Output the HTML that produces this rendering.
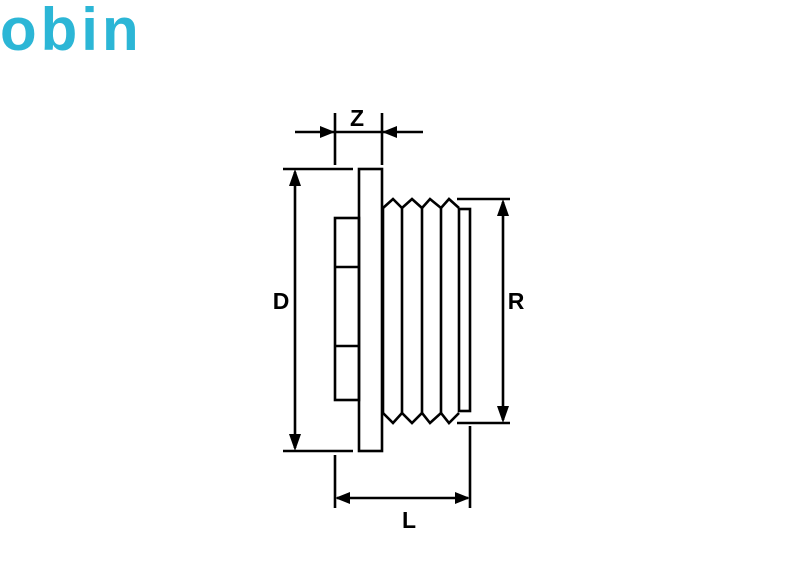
<!DOCTYPE html>
<html><head><style>
html,body{margin:0;padding:0;background:#fff;width:800px;height:576px;overflow:hidden}
svg{display:block}
</style></head><body>
<svg width="800" height="576" viewBox="0 0 800 576" xmlns="http://www.w3.org/2000/svg">
<text x="0" y="50" font-family="Liberation Sans, sans-serif" font-weight="bold" font-size="60" fill="#2cb6d6" letter-spacing="4">obin</text>
<g stroke="#000" stroke-width="2.6" fill="none" stroke-linejoin="miter">
<rect x="359" y="169" width="23" height="282"/>
<rect x="335" y="218" width="24" height="182"/>
<line x1="335" y1="267" x2="359" y2="267"/>
<line x1="335" y1="346" x2="359" y2="346"/>
<polyline points="383,208 393,199 402,208 412,199 422,208 430,199 441,208 449,199 459,208"/>
<polyline points="383,413 393,423 402,413 412,423 422,413 430,423 441,413 449,423 459,413"/>
<line x1="383" y1="208" x2="383" y2="413"/>
<line x1="402" y1="208" x2="402" y2="413"/>
<line x1="422" y1="208" x2="422" y2="413"/>
<line x1="441" y1="208" x2="441" y2="413"/>
<rect x="459" y="209" width="11" height="202"/>
<line x1="283" y1="169" x2="353" y2="169"/>
<line x1="283" y1="451" x2="353" y2="451"/>
<line x1="295" y1="172" x2="295" y2="448"/>
<line x1="457" y1="199" x2="510" y2="199"/>
<line x1="457" y1="423" x2="510" y2="423"/>
<line x1="503" y1="202" x2="503" y2="420"/>
<line x1="335" y1="113" x2="335" y2="165"/>
<line x1="382" y1="113" x2="382" y2="165"/>
<line x1="295" y1="132" x2="423" y2="132"/>
<line x1="335" y1="455" x2="335" y2="508"/>
<line x1="470" y1="426" x2="470" y2="508"/>
<line x1="337" y1="498" x2="468" y2="498"/>
</g>
<g fill="#000">
<polygon points="295,169 289,186 301,186"/>
<polygon points="295,451 289,434 301,434"/>
<polygon points="503,199 497,216 509,216"/>
<polygon points="503,423 497,406 509,406"/>
<polygon points="335,132 320,126 320,138"/>
<polygon points="382,132 397,126 397,138"/>
<polygon points="335,498 350,492 350,504"/>
<polygon points="470,498 455,492 455,504"/>
</g>
<g font-family="Liberation Sans, sans-serif" font-weight="bold" font-size="23" fill="#000" text-anchor="middle">
<text x="281" y="309">D</text>
<text x="516" y="309">R</text>
<text x="357" y="126">Z</text>
<text x="409" y="528">L</text>
</g>
</svg>
</body></html>
